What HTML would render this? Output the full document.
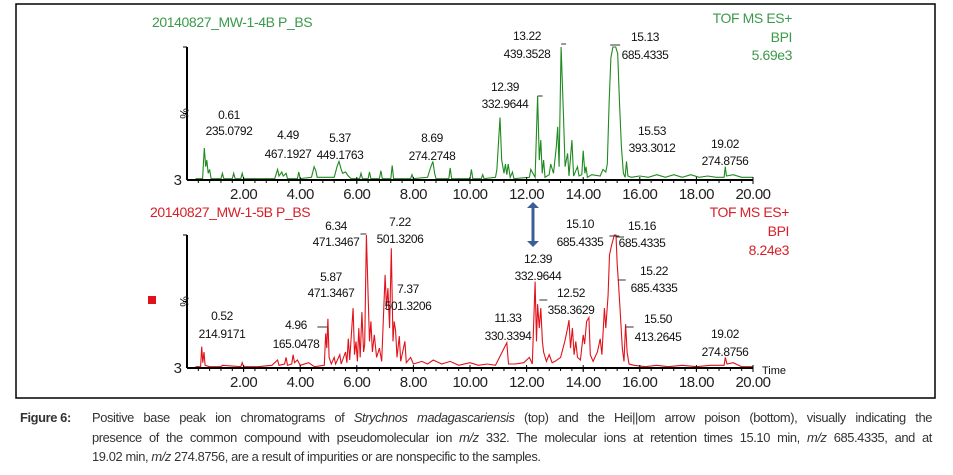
<!DOCTYPE html>
<html><head><meta charset="utf-8">
<style>
html,body{margin:0;padding:0;background:#fff;}
body{width:953px;height:475px;overflow:hidden;position:relative;font-family:"Liberation Sans",sans-serif;}
svg{position:absolute;left:0;top:0;}
.cap{position:absolute;font-size:12.9px;color:#333;letter-spacing:-0.4px;line-height:19.5px;white-space:nowrap;}
</style></head>
<body>
<svg id="chart" width="953" height="400" font-family="Liberation Sans, sans-serif"></svg>
<div class="cap" style="left:20px;top:408px;font-weight:bold;">Figure 6:</div>
<div class="cap" style="left:92px;top:408px;width:840px;">
<div style="text-align:justify;text-align-last:justify;white-space:normal;">Positive base peak ion chromatograms of <i>Strychnos madagascariensis</i> (top) and the Hei||om arrow poison (bottom), visually indicating the</div>
<div style="text-align:justify;text-align-last:justify;white-space:normal;">presence of the common compound with pseudomolecular ion <i>m/z</i> 332. The molecular ions at retention times 15.10 min, <i>m/z</i> 685.4335, and at</div>
<div>19.02 min, <i>m/z</i> 274.8756, are a result of impurities or are nonspecific to the samples.</div>
</div>
<script>
const tickLabels = ["2.00","4.00","6.00","8.00","10.00","12.00","14.00","16.00","18.00","20.00"];
const tickValues = [2,4,6,8,10,12,14,16,18,20];
const topTimes = [0.3,0.55,0.61,0.66,0.7,0.75,0.8,0.85,1.2,1.25,1.3,1.6,1.65,1.7,1.9,1.95,2.0,3.1,3.2,3.25,3.35,3.4,3.5,3.55,3.9,3.95,4.0,4.4,4.49,4.55,4.6,5.2,5.3,5.37,5.45,5.5,5.6,5.7,5.8,6.1,6.15,6.2,6.4,6.45,6.5,6.8,6.85,6.9,7.2,7.25,7.3,7.9,7.95,8.0,8.5,8.6,8.69,8.75,8.8,9.25,9.3,9.35,10.0,10.05,10.1,10.4,10.45,10.5,10.9,10.95,11.06,11.12,11.2,11.25,11.3,11.35,11.42,11.5,11.55,12.1,12.15,12.3,12.39,12.45,12.5,12.55,12.6,12.65,12.8,12.85,12.95,13.05,13.1,13.15,13.22,13.3,13.36,13.45,13.5,13.6,13.66,13.8,13.85,13.95,14.0,14.06,14.1,14.15,14.3,14.6,14.7,14.8,14.85,14.92,14.98,15.05,15.15,15.22,15.28,15.35,15.42,15.48,15.53,15.58,15.7,16.0,16.3,16.6,16.9,17.2,17.5,17.8,18.1,18.4,18.7,18.98,19.02,19.06,19.3,19.6,20.0];
const topValues = [1,1,24,10,15,5,8,1,1,5,1,1,5,1,1,5,1,1,8,3,6,3,5,1,1,6,1,2,10,7,2,2,10,14,8,5,6,3,1,1,5,1,1,6,1,1,7,1,1,11,1,1,4,1,2,9,14,5,1,1,9,1,1,8,1,1,4,1,2,8,47,15,5,12,4,12,2,6,1,2,8,2,63,15,30,5,15,2,4,12,5,25,40,10,100,50,10,20,3,30,3,10,3,4,22,5,10,2,4,3,8,6,12,60,92,100,100,95,60,25,5,2,14,3,2,3,2,4,2,4,2,4,2,3,2,2,10,3,4,2,2];
const botTimes = [0.3,0.48,0.52,0.56,0.6,0.64,0.8,1.2,1.25,1.9,1.95,2.0,2.5,3.0,3.2,3.25,3.45,3.5,3.55,3.7,3.75,3.8,3.9,4.0,4.3,4.5,4.85,4.9,4.94,4.98,5.02,5.1,5.2,5.25,5.4,5.45,5.6,5.65,5.7,5.75,5.87,5.92,5.97,6.02,6.07,6.12,6.18,6.24,6.28,6.34,6.4,6.45,6.5,6.55,6.62,6.7,6.8,6.88,7.0,7.05,7.1,7.16,7.22,7.28,7.32,7.37,7.42,7.5,7.55,7.7,7.75,7.9,8.0,8.3,8.5,8.7,9.0,9.3,9.6,10.0,10.3,10.6,10.9,11.3,11.36,11.6,11.9,12.1,12.2,12.3,12.35,12.39,12.45,12.5,12.56,12.6,12.7,12.8,12.9,13.0,13.2,13.35,13.45,13.5,13.55,13.62,13.68,13.74,13.8,13.9,14.0,14.05,14.12,14.2,14.25,14.35,14.5,14.6,14.66,14.75,14.8,14.88,14.93,15.0,15.1,15.16,15.2,15.24,15.3,15.38,15.44,15.5,15.55,15.62,15.8,16.2,16.6,17.0,17.5,18.0,18.5,18.98,19.02,19.08,19.3,19.6,20.0];
const botValues = [1,1,16,4,12,2,1,1,2,1,4,1,1,2,6,2,3,8,2,3,10,4,6,2,4,1,2,26,15,37,8,3,8,3,10,3,12,4,22,6,45,10,20,5,30,8,42,12,18,100,55,20,35,12,25,8,15,5,70,45,60,30,90,20,35,28,8,24,5,20,4,8,3,5,3,6,3,5,2,4,2,3,2,19,3,3,4,8,3,65,20,48,30,45,20,12,5,10,4,5,8,20,30,36,15,30,10,20,8,6,25,18,35,38,10,5,12,22,10,45,30,55,85,92,100,100,78,66,45,15,5,33,12,3,2,1,2,1,2,1,2,2,8,3,4,1,1];

const NS="http://www.w3.org/2000/svg";
const svg=document.getElementById('chart');
function el(tag,attrs,parent){const e=document.createElementNS(NS,tag);for(const k in attrs)e.setAttribute(k,attrs[k]);(parent||svg).appendChild(e);return e;}
function txt(s,x,y,attrs,parent){const e=el('text',Object.assign({x:x,y:y},attrs),parent);e.textContent=s;return e;}
const X0=187,X1=753;
const xs=t=>X0+t*(X1-X0)/20;

const frame=el('rect',{x:16,y:4,width:919,height:394,fill:'none',stroke:'#000','stroke-width':1.5});



function panel(name,base,top,times,values,color){
  const g=el('g',{});
  
  
  const ys=v=>base-v/100*(base-top);
  let d='';
  times.forEach((t,i)=>{d+=(i?'L':'M')+xs(t).toFixed(1)+','+ys(values[i]).toFixed(1);});
  const p=el('path',{d:d,fill:'none',stroke:color,'stroke-width':1.1},g);
  
  
  const ya=el('line',{x1:X0,y1:top,x2:X0,y2:base,stroke:'#000','stroke-width':2},g);
  
  
  el('line',{x1:X0,y1:top,x2:X0-4,y2:top,stroke:'#000','stroke-width':1},g);
  el('line',{x1:X0,y1:(top+base)/2,x2:X0-4,y2:(top+base)/2,stroke:'#000','stroke-width':1},g);
  const xa=el('line',{x1:X0,y1:base,x2:X1,y2:base,stroke:'#000','stroke-width':2},g);
  
  
  for(let t=0.4;t<=20.01;t+=0.4){el('line',{x1:xs(t),y1:base,x2:xs(t),y2:base+3,stroke:'#000','stroke-width':1},g);}
  tickValues.forEach((v,i)=>{
    el('line',{x1:xs(v),y1:base-3,x2:xs(v),y2:base+4,stroke:'#000','stroke-width':1},g);
    const tl=txt(tickLabels[i],xs(v),base+19,{'font-size':15,'text-anchor':'middle',fill:'#222','letter-spacing':'-0.5'},g);
    
    
  });
  const th=txt('3',X0-5,base+5,{'font-size':15,'text-anchor':'end',fill:'#222'},g);
  
  
  const pc=txt('%',0,0,{'font-size':12,'text-anchor':'middle',fill:'#222',transform:'translate('+(X0-7)+','+((top+base)/2)+') rotate(90)'},g);
  
  
  return g;
}
panel('top-chromatogram',180,47,topTimes,topValues,'#1f8a1f');
panel('bottom-chromatogram',368,235,botTimes,botValues,'#e0121b');

function ann(a,b,x,y1,y2,name){
  const g=el('g',{});
  
  
  txt(a,x,y1+4,{'font-size':12,'text-anchor':'middle',fill:'#111','letter-spacing':'-0.4'},g);
  txt(b,x,y2+4,{'font-size':12,'text-anchor':'middle',fill:'#111','letter-spacing':'-0.4'},g);
}
ann('0.61','235.0792',229,115,131,'peak-label-0-61');
ann('4.49','467.1927',288,135,154,'peak-label-4-49');
ann('5.37','449.1763',340,138,155,'peak-label-5-37');
ann('8.69','274.2748',432,138,156,'peak-label-8-69');
ann('12.39','332.9644',505,87,104,'peak-label-12-39-top');
ann('13.22','439.3528',527,36,54,'peak-label-13-22');
ann('15.13','685.4335',645,37,55,'peak-label-15-13');
ann('15.53','393.3012',652,131,148,'peak-label-15-53');
ann('19.02','274.8756',725,144,161,'peak-label-19-02-top');
ann('6.34','471.3467',336,226,242,'peak-label-6-34');
ann('7.22','501.3206',400,222,239,'peak-label-7-22');
ann('5.87','471.3467',331,277,293,'peak-label-5-87');
ann('7.37','501.3206',408,289,306,'peak-label-7-37');
ann('0.52','214.9171',222,316,334,'peak-label-0-52');
ann('4.96','165.0478',296,325,344,'peak-label-4-96');
ann('11.33','330.3394',508,318,336,'peak-label-11-33');
ann('12.39','332.9644',538,259,276,'peak-label-12-39-bottom');
ann('12.52','358.3629',571,293,310,'peak-label-12-52');
ann('15.10','685.4335',580,224,242,'peak-label-15-10');
ann('15.16','685.4335',642,226,243,'peak-label-15-16');
ann('15.22','685.4335',654,271,288,'peak-label-15-22');
ann('15.50','413.2645',658,319,337,'peak-label-15-50');
ann('19.02','274.8756',725,334,352,'peak-label-19-02-bottom');

[[xs(13.22),44,xs(13.22)+5],[xs(12.39),96,xs(12.39)+5],[xs(15.13)-5,45,xs(15.13)+5],[xs(6.34)-6,234,xs(6.34)],[xs(15.1)-5,236,xs(15.1)+5],[xs(15.16),237,xs(15.16)+8],[xs(15.22),280,xs(15.22)+8],[xs(15.5),327,xs(15.5)+8],[xs(12.45),300,xs(12.45)+8],[xs(4.96)-10,327,xs(4.96)]].forEach(l=>{
  el('line',{x1:l[0],y1:l[1],x2:l[2],y2:l[1],stroke:'#333','stroke-width':1});
});

function title(s,x,y,color,anchor,name){
  const t=txt(s,x,y,{'font-size':14,fill:color,'text-anchor':anchor,'letter-spacing':'-0.4'});
  
  
}
title('20140827_MW-1-4B P_BS',152,27,'#3a9a4a','start','top-sample-title');
title('TOF MS ES+',792,23,'#3a9a4a','end','top-mode-label');
title('BPI',792,42,'#3a9a4a','end','top-bpi-label');
title('5.69e3',792,60,'#3a9a4a','end','top-intensity-label');
title('20140827_MW-1-5B P_BS',150,217,'#d8202a','start','bottom-sample-title');
title('TOF MS ES+',789,217,'#d8202a','end','bottom-mode-label');
title('BPI',789,236,'#d8202a','end','bottom-bpi-label');
title('8.24e3',789,255,'#d8202a','end','bottom-intensity-label');
const tm=txt('Time',762,374,{'font-size':11,fill:'#111'});



const arr=el('g',{});


el('line',{x1:533,y1:208,x2:533,y2:241,stroke:'#3b5f95','stroke-width':3},arr);
el('polygon',{points:'527,208 539,208 533,202',fill:'#3b5f95'},arr);
el('polygon',{points:'527,241 539,241 533,247',fill:'#3b5f95'},arr);

const sq=el('rect',{x:148,y:296,width:8,height:8,fill:'#e0121b'});


</script>
</body></html>
